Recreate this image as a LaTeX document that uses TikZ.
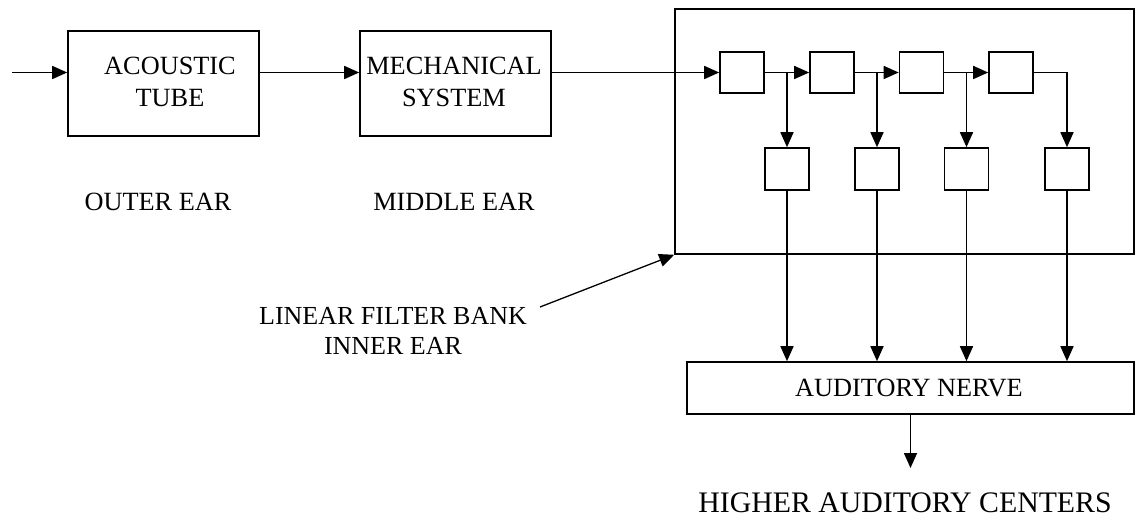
\documentclass[tikz,border=0pt]{standalone}
\usepackage{fontspec}
\setmainfont{Liberation Serif}
\usetikzlibrary{arrows.meta}
\begin{document}
\begin{tikzpicture}[x=1pt,y=-1pt,
  box/.style={draw, line width=1.6pt, rectangle, inner sep=0pt},
  cell/.style={box, minimum width=44pt, minimum height=41pt},
  lbl/.style={inner sep=0pt, align=center, font=\fontsize{26.3}{32}\selectfont},
  arr/.style={line width=1.6pt, -{Triangle[length=15pt,width=13pt]}}]
\useasboundingbox (0,0) rectangle (1136,521);
% main boxes
\node[box, minimum width=191pt, minimum height=105pt] (tube) at (163.5,83.5) {};
\node[box, minimum width=191pt, minimum height=105pt] (mech) at (455.5,83.5) {};
\node[box, minimum width=459pt, minimum height=245pt] (bank) at (904.5,131.5) {};
\node[box, minimum width=447pt, minimum height=52pt] (nerve) at (910.5,388) {};
% texts
\node[lbl] (tubet) at (170,82) {ACOUSTIC\\TUBE};
\node[lbl] (mecht) at (454,82) {MECHANICAL\\SYSTEM};
\node[lbl] (outer) at (158,202) {OUTER EAR};
\node[lbl] (middle) at (454,202) {MIDDLE EAR};
\node[lbl] (nervet) at (909,388) {AUDITORY NERVE};
\node[lbl, font=\fontsize{26}{30}\selectfont] (inner) at (393,331) {LINEAR FILTER BANK\\INNER EAR};
\node[lbl, font=\fontsize{29.8}{34}\selectfont] (higher) at (905,503) {HIGHER AUDITORY CENTERS};
% filter cells
\node[cell] (f1) at (742,72.5) {};
\node[cell] (f2) at (832,72.5) {};
\node[cell] (f3) at (921.5,72.5) {};
\node[cell] (f4) at (1011,72.5) {};
\node[cell, minimum height=42pt] (l1) at (787,169) {};
\node[cell, minimum height=42pt] (l2) at (877,169) {};
\node[cell, minimum height=42pt] (l3) at (966.5,169) {};
\node[cell, minimum height=42pt] (l4) at (1067,169) {};
% coordinates
\coordinate (in) at (12,72.5);
\coordinate (outend) at (910.5,468);
\coordinate (labstart) at (540,307);
% connectors
\draw[arr] (in) -- (in -| tube.west);
\draw[arr] (tube.east |- in) -- (mech.west |- in);
\draw[arr] (mech.east |- f1.west) -- (f1.west);
\draw[arr] (f1.east) -- (f2.west);
\draw[arr] (f2.east) -- (f3.west);
\draw[arr] (f3.east) -- (f4.west);
\draw[arr] (l1 |- f1.east) -- (l1.north);
\draw[arr] (l2 |- f2.east) -- (l2.north);
\draw[arr] (l3 |- f3.east) -- (l3.north);
\draw[arr] (f4.east) -| (l4.north);
\draw[arr] (l1.south) -- (l1.south |- nerve.north);
\draw[arr] (l2.south) -- (l2.south |- nerve.north);
\draw[arr] (l3.south) -- (l3.south |- nerve.north);
\draw[arr] (l4.south) -- (l4.south |- nerve.north);
\draw[arr] (nerve.south) -- (outend);
\draw[arr, line width=1.3pt] (labstart) -- (bank.south west);
\end{tikzpicture}
\end{document}
